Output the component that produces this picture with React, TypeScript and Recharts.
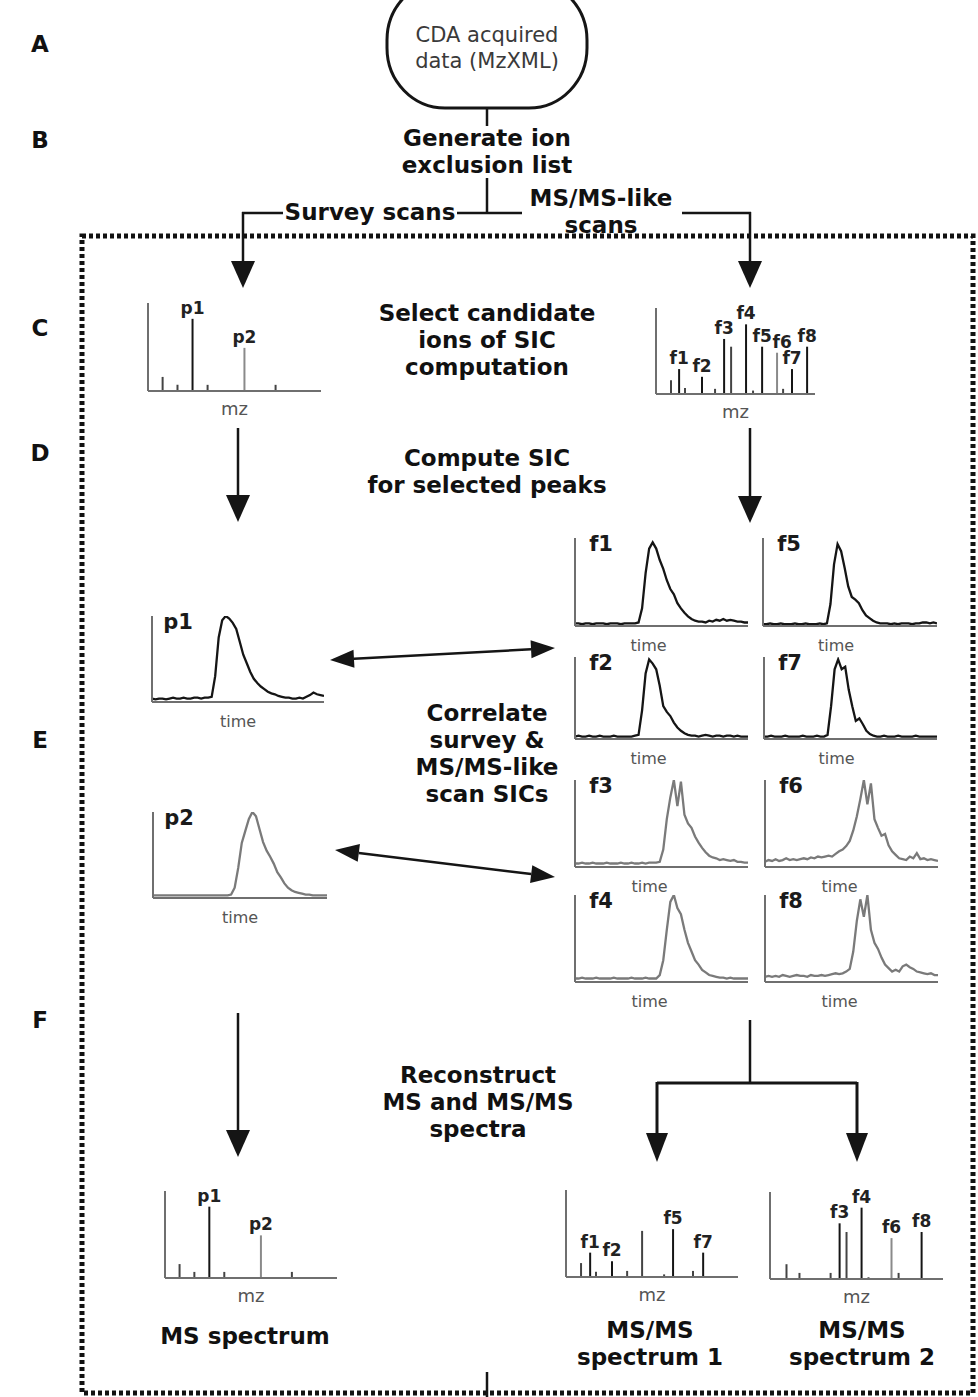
import React from 'react';
import { BarChart, Bar, LineChart, Line, XAxis, YAxis, Cell, LabelList } from 'recharts';

// ---- stick spectra: m/z position (0-100 across the axis) and relative intensity ----
const SURVEY_MZ = [8.7, 17.3, 26, 34.7, 56, 74];
const SURVEY_INT = [16, 7, 82, 7, 49, 7];
const SURVEY_LABELS = ['', '', 'p1', '', 'p2', ''];

const FRAG_MZ = [9.4, 14.5, 18.2, 28.9, 37.1, 42.8, 47.2, 56.6, 61, 66.7, 76.1, 79.9, 85.5, 95];
const FRAG_INT = [16, 29, 7, 20, 6, 64, 55, 81, 4, 55, 48, 6, 29, 55];
const FRAG_LABELS = ['', 'f1', '', 'f2', '', 'f3', '', 'f4', '', 'f5', 'f6', '', 'f7', 'f8'];

const MSMS1_MZ = [8.7, 14, 17.4, 26.7, 35.5, 44.2, 57, 62.2, 73.8, 79.7];
const MSMS1_INT = [16, 28, 6, 18, 7, 53, 3, 55, 7, 28];
const MSMS1_LABELS = ['', 'f1', '', 'f2', '', '', '', 'f5', '', 'f7'];

const MSMS2_MZ = [9.8, 17.3, 35.3, 40.5, 44.5, 53.2, 57.2, 70.5, 74.6, 87.9];
const MSMS2_INT = [17, 7, 7, 64, 54, 82, 2, 47, 7, 54];
const MSMS2_LABELS = ['', '', '', 'f3', '', 'f4', '', 'f6', '', 'f8'];

// ---- selected ion chromatograms (relative intensity per scan) ----
const SIC_P1 = [4, 3, 4, 4, 3, 4, 5, 4, 4, 5, 4, 4, 5, 5, 4, 5, 5, 6, 30, 75, 95, 100, 97, 92, 85, 70, 55, 45, 35, 27, 22, 18, 15, 12, 10, 9, 7, 6, 5, 5, 4, 4, 5, 4, 6, 8, 11, 9, 8, 7];
const SIC_P2 = [3, 3, 3, 3, 3, 3, 3, 3, 3, 3, 3, 3, 3, 3, 3, 3, 3, 3, 3, 3, 3, 3, 4, 12, 35, 64, 78, 92, 100, 95, 80, 65, 55, 48, 40, 30, 24, 17, 12, 9, 7, 6, 5, 4, 4, 3, 3, 3, 3, 3];
const SIC_F1 = [3, 3, 2, 3, 3, 2, 3, 3, 3, 2, 3, 3, 3, 2, 3, 3, 3, 3, 4, 20, 60, 88, 95, 88, 75, 65, 52, 42, 36, 26, 20, 15, 11, 8, 6, 5, 5, 4, 6, 5, 7, 6, 8, 6, 7, 6, 5, 5, 4, 4];
const SIC_F2 = [3, 4, 3, 3, 4, 3, 3, 4, 3, 3, 3, 4, 3, 3, 3, 3, 3, 4, 5, 35, 80, 97, 92, 85, 65, 40, 33, 28, 20, 14, 10, 7, 5, 4, 4, 3, 4, 5, 4, 3, 4, 4, 3, 4, 4, 3, 4, 3, 3, 3];
const SIC_F3 = [4, 4, 5, 4, 4, 5, 4, 4, 4, 5, 4, 4, 4, 5, 4, 4, 5, 4, 4, 5, 4, 5, 5, 5, 6, 20, 55, 80, 100, 70, 98, 60, 50, 45, 35, 28, 22, 17, 13, 11, 10, 8, 9, 8, 7, 8, 6, 6, 5, 5];
const SIC_F4 = [4, 4, 5, 4, 4, 4, 5, 4, 4, 4, 4, 5, 4, 4, 4, 4, 5, 4, 4, 4, 5, 4, 4, 4, 8, 25, 60, 92, 100, 85, 78, 60, 45, 35, 25, 20, 14, 11, 8, 7, 6, 5, 5, 4, 5, 4, 4, 4, 4, 4];
const SIC_F5 = [2, 2, 3, 2, 2, 3, 2, 2, 2, 3, 2, 2, 3, 2, 2, 2, 3, 2, 3, 25, 70, 93, 85, 66, 45, 33, 30, 26, 18, 12, 9, 6, 4, 3, 3, 3, 2, 3, 2, 3, 3, 3, 2, 3, 3, 4, 4, 3, 4, 3];
const SIC_F6 = [6, 8, 7, 9, 7, 8, 10, 8, 9, 8, 9, 10, 9, 11, 10, 12, 11, 12, 13, 12, 15, 18, 20, 24, 30, 42, 58, 78, 100, 72, 96, 55, 45, 36, 38, 25, 18, 14, 10, 9, 8, 12, 10, 16, 9, 10, 8, 9, 8, 7];
const SIC_F7 = [3, 3, 4, 3, 3, 3, 4, 3, 3, 3, 3, 4, 3, 3, 3, 4, 3, 3, 5, 40, 85, 97, 85, 88, 60, 40, 22, 25, 18, 10, 6, 4, 3, 3, 4, 3, 3, 3, 4, 3, 3, 3, 3, 4, 3, 3, 3, 3, 3, 3];
const SIC_F8 = [6, 7, 6, 7, 6, 8, 7, 6, 7, 8, 7, 7, 6, 8, 7, 7, 8, 7, 8, 9, 10, 9, 10, 12, 15, 35, 70, 95, 75, 100, 60, 45, 38, 28, 20, 16, 12, 14, 12, 18, 20, 17, 15, 12, 11, 10, 9, 10, 8, 8];

const INK = '#151515';
const GREY = '#7a7a7a';
const AXIS = '#6f6f6f';
const GREY_PEAKS = ['p2', 'f6'];

const axisLine = { stroke: AXIS, strokeWidth: 2 };

type SpecProps = { mz: number[]; intensity: number[]; labels: string[]; left: number; top: number; width: number; height: number };

function StickSpectrum({ mz, intensity, labels, left, top, width, height }: SpecProps) {
  const data = mz.map((m, i) => ({ mz: m, h: intensity[i], name: labels[i] }));
  const padTop = 30;
  const padBottom = 32;
  const padRight = 14;

  // horizontal label offsets: a label that would collide with the previous one is pushed right
  const labelShift: number[] = labels.map(() => 0);
  let prev = -1;
  labels.forEach((l, i) => {
    if (!l) return;
    if (prev >= 0) {
      const px = (mz[prev] / 100) * width + labelShift[prev];
      const x = (mz[i] / 100) * width;
      const dy = (Math.abs(intensity[i] - intensity[prev]) / 100) * height;
      if (dy < 15 && x - px < 20) labelShift[i] = px + 20 - x;
    }
    prev = i;
  });

  const renderLabel = (p: any) => {
    const i = p.index as number;
    if (!labels[i]) return null;
    const cx = Number(p.x) + Number(p.width) / 2 + labelShift[i];
    return (
      <text x={cx} y={Number(p.y) - 5} textAnchor="middle" fontWeight="bold" fontSize={17} fill="#222">
        {labels[i]}
      </text>
    );
  };

  return (
    <div style={{ position: 'absolute', left: left - 2, top: top - padTop }}>
      <BarChart width={width + 2 + padRight} height={height + padTop + padBottom} data={data}
        margin={{ top: padTop, right: padRight, bottom: 0, left: 0 }}>
        <XAxis type="number" dataKey="mz" domain={[0, 100]} tick={false} tickLine={false}
          axisLine={axisLine} height={padBottom}
          label={{ value: 'mz', position: 'insideBottom', offset: 8, fill: '#555', fontSize: 18 }} />
        <YAxis type="number" domain={[0, 100]} tick={false} tickLine={false} axisLine={axisLine} width={2} />
        <Bar dataKey="h" barSize={2} isAnimationActive={false}>
          {data.map((d, i) => (
            <Cell key={`pk-${i}`} fill={GREY_PEAKS.includes(d.name) ? '#8a8a8a' : d.name ? INK : '#444'} />
          ))}
          <LabelList dataKey="name" content={renderLabel} />
        </Bar>
      </BarChart>
    </div>
  );
}

type SicProps = { name: string; values: number[]; color: string; left: number; top: number; width: number; height: number; shift?: number };

function SicPanel({ name, values, color, left, top, width, height, shift = 0 }: SicProps) {
  const data = values.map((v, i) => ({ t: i, v }));
  const padBottom = 32;
  return (
    <div style={{ position: 'absolute', left: left - 2, top, width: width + 2, height: height + padBottom }}>
      <LineChart width={width + 2} height={height + padBottom} data={data}
        margin={{ top: 0, right: 0, bottom: 0, left: 0 }}>
        <XAxis type="number" dataKey="t" domain={[0, values.length - 1]} tick={false} tickLine={false}
          axisLine={axisLine} height={padBottom}
          label={{ value: 'time', position: 'insideBottom', offset: 7, dx: shift, fill: '#555', fontSize: 16 }} />
        <YAxis type="number" domain={[0, 100]} tick={false} tickLine={false} axisLine={axisLine}
          width={2} allowDataOverflow />
        <Line type="linear" dataKey="v" stroke={color} strokeWidth={2.3} dot={false} isAnimationActive={false} />
      </LineChart>
      <div style={{ position: 'absolute', left: 28, top: 6, transform: 'translate(-50%, -50%)',
        fontWeight: 'bold', fontSize: 21, color: '#1a1a1a', lineHeight: 1 }}>{name}</div>
    </div>
  );
}

type ArrowProps = { x1: number; y1: number; x2: number; y2: number; head?: number; half?: number; w?: number; both?: boolean };

function Arrow({ x1, y1, x2, y2, head = 27, half = 12, w = 2.5, both = false }: ArrowProps) {
  const len = Math.hypot(x2 - x1, y2 - y1);
  const ux = (x2 - x1) / len;
  const uy = (y2 - y1) / len;
  const px = -uy * half;
  const py = ux * half;
  const ex = x2 - ux * head;
  const ey = y2 - uy * head;
  const sx = both ? x1 + ux * head : x1;
  const sy = both ? y1 + uy * head : y1;
  return (
    <g>
      <line x1={sx} y1={sy} x2={ex} y2={ey} stroke={INK} strokeWidth={w} />
      <polygon points={`${x2},${y2} ${ex + px},${ey + py} ${ex - px},${ey - py}`} fill={INK} />
      {both && <polygon points={`${x1},${y1} ${sx + px},${sy + py} ${sx - px},${sy - py}`} fill={INK} />}
    </g>
  );
}

function Caption({ x, y, lines, size = 23 }: { x: number; y: number; lines: string[]; size?: number }) {
  return (
    <g>
      {lines.map((t, i) => (
        <text key={t + i} x={x} y={y + i * 27} textAnchor="middle" dominantBaseline="central"
          fontWeight="bold" fontSize={size} fill="#111">{t}</text>
      ))}
    </g>
  );
}

function Diagram() {
  return (
    <svg width={978} height={1397} style={{ position: 'absolute', left: 0, top: 0 }}>
      {/* step letters */}
      {[['A', 44], ['B', 140], ['C', 328], ['D', 453], ['E', 740], ['F', 1020]].map(([l, y]) => (
        <text key={l as string} x={40} y={y as number} textAnchor="middle" dominantBaseline="central"
          fontWeight="bold" fontSize={23} fill="#111">{l}</text>
      ))}

      {/* input data node */}
      <rect x={387} y={-20} width={200} height={128} rx={58} ry={60} fill="none" stroke={INK} strokeWidth={3} />
      <text x={487} y={35} textAnchor="middle" dominantBaseline="central" fontSize={21} fill="#3a3a3a">CDA acquired</text>
      <text x={487} y={61} textAnchor="middle" dominantBaseline="central" fontSize={21} fill="#3a3a3a">data (MzXML)</text>
      <line x1={487} y1={108} x2={487} y2={126} stroke={INK} strokeWidth={2.5} />

      <Caption x={487} y={138} lines={['Generate ion', 'exclusion list']} />
      <line x1={487} y1={178} x2={487} y2={213} stroke={INK} strokeWidth={2.5} />
      <line x1={242} y1={213} x2={283} y2={213} stroke={INK} strokeWidth={2.5} />
      <line x1={457} y1={213} x2={522} y2={213} stroke={INK} strokeWidth={2.5} />
      <line x1={682} y1={213} x2={751} y2={213} stroke={INK} strokeWidth={2.5} />
      <text x={370} y={212} textAnchor="middle" dominantBaseline="central" fontWeight="bold" fontSize={23} fill="#111">Survey scans</text>
      <Caption x={601} y={198} lines={['MS/MS-like', 'scans']} size={23} />

      {/* processing frame */}
      <rect x={82} y={236} width={891} height={1157} fill="none" stroke="#111" strokeWidth={5} strokeDasharray="4 3" />

      <Arrow x1={243} y1={212} x2={243} y2={288} />
      <Arrow x1={750} y1={212} x2={750} y2={288} />
      <Caption x={487} y={313} lines={['Select candidate', 'ions of SIC', 'computation']} />

      <Arrow x1={238} y1={428} x2={238} y2={522} />
      <Arrow x1={750} y1={428} x2={750} y2={523} />
      <Caption x={487} y={458} lines={['Compute SIC', 'for selected peaks']} />

      <Arrow x1={330} y1={660} x2={555} y2={648} both head={24} half={9} w={2.5} />
      <Arrow x1={335} y1={850} x2={555} y2={877} both head={24} half={9} w={2.5} />
      <Caption x={487} y={713} lines={['Correlate', 'survey &', 'MS/MS-like', 'scan SICs']} />

      <Arrow x1={238} y1={1013} x2={238} y2={1157} />
      <line x1={750} y1={1020} x2={750} y2={1083} stroke={INK} strokeWidth={2.5} />
      <line x1={657} y1={1083} x2={857} y2={1083} stroke={INK} strokeWidth={3} />
      <Arrow x1={657} y1={1082} x2={657} y2={1162} w={3} half={11} head={29} />
      <Arrow x1={857} y1={1082} x2={857} y2={1162} w={3} half={11} head={29} />
      <Caption x={478} y={1075} lines={['Reconstruct', 'MS and MS/MS', 'spectra']} />

      <Caption x={245} y={1336} lines={['MS spectrum']} />
      <Caption x={650} y={1330} lines={['MS/MS', 'spectrum 1']} />
      <Caption x={862} y={1330} lines={['MS/MS', 'spectrum 2']} />
      <line x1={487} y1={1372} x2={487} y2={1397} stroke={INK} strokeWidth={2.5} />
    </svg>
  );
}

export default function App() {
  return (
    <div style={{ position: 'absolute', left: 0, top: 0, width: 978, height: 1397, background: '#fff',
      fontFamily: '"DejaVu Sans", Verdana, sans-serif', overflow: 'hidden' }}>
      <Diagram />

      <StickSpectrum mz={SURVEY_MZ} intensity={SURVEY_INT} labels={SURVEY_LABELS} left={148} top={303} width={173} height={88} />
      <StickSpectrum mz={FRAG_MZ} intensity={FRAG_INT} labels={FRAG_LABELS} left={656} top={308} width={159} height={86} />

      <SicPanel name="p1" values={SIC_P1} color={INK} left={152} top={616} width={172} height={86} />
      <SicPanel name="p2" values={SIC_P2} color={GREY} left={153} top={812} width={174} height={86} />

      <SicPanel name="f1" values={SIC_F1} color={INK} left={575} top={538} width={173} height={88} shift={-13} />
      <SicPanel name="f5" values={SIC_F5} color={INK} left={763} top={538} width={174} height={88} shift={-14} />
      <SicPanel name="f2" values={SIC_F2} color={INK} left={575} top={657} width={173} height={82} shift={-13} />
      <SicPanel name="f7" values={SIC_F7} color={INK} left={764} top={657} width={173} height={82} shift={-14} />
      <SicPanel name="f3" values={SIC_F3} color={GREY} left={575} top={780} width={173} height={87} shift={-12} />
      <SicPanel name="f6" values={SIC_F6} color={GREY} left={765} top={780} width={173} height={87} shift={-12} />
      <SicPanel name="f4" values={SIC_F4} color={GREY} left={575} top={895} width={173} height={87} shift={-12} />
      <SicPanel name="f8" values={SIC_F8} color={GREY} left={765} top={895} width={173} height={87} shift={-12} />

      <StickSpectrum mz={SURVEY_MZ} intensity={SURVEY_INT} labels={SURVEY_LABELS} left={165} top={1191} width={172} height={87} />
      <StickSpectrum mz={MSMS1_MZ} intensity={MSMS1_INT} labels={MSMS1_LABELS} left={566} top={1190} width={172} height={87} />
      <StickSpectrum mz={MSMS2_MZ} intensity={MSMS2_INT} labels={MSMS2_LABELS} left={770} top={1192} width={173} height={87} />
    </div>
  );
}
